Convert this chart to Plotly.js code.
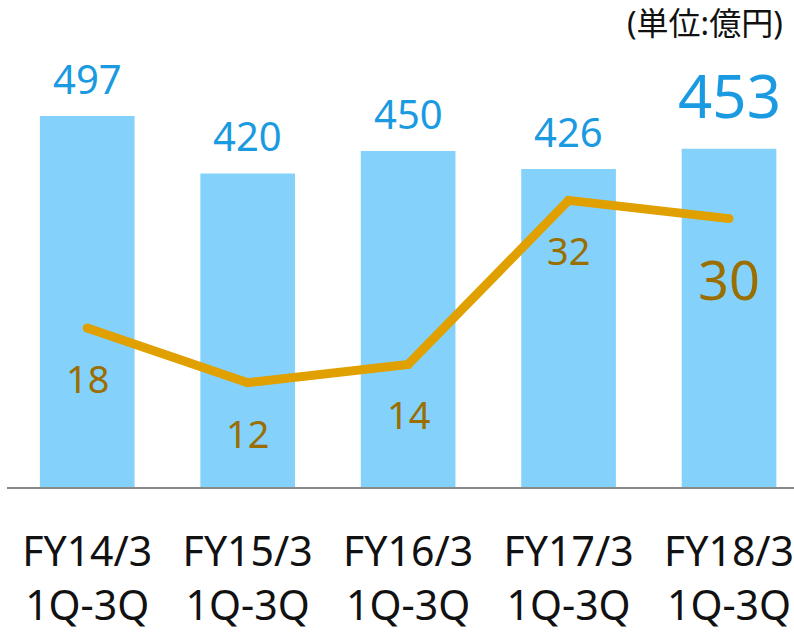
<!DOCTYPE html>
<html>
<head>
<meta charset="utf-8">
<script src="https://cdn.plot.ly/plotly-3.0.1.min.js"></script>
<style>
  html, body { margin: 0; padding: 0; background: #fff; }
  #chart { width: 794px; height: 633px; }
</style>
</head>
<body>
<div id="chart"></div>
<script>
const categories = ['FY14/3<br>1Q-3Q', 'FY15/3<br>1Q-3Q', 'FY16/3<br>1Q-3Q', 'FY17/3<br>1Q-3Q', 'FY18/3<br>1Q-3Q'];
const sales = [497, 420, 450, 426, 453];
const profit = [18, 12, 14, 32, 30];
const unitLabel = '(単位:億円)';

const chart = document.getElementById('chart');
const font = '"Noto Sans", "Noto Sans CJK JP", sans-serif';

const barTrace = {
  type: 'bar',
  x: categories,
  y: sales,
  marker: { color: '#84D2FC' },
  hoverinfo: 'skip'
};

const lineTrace = {
  type: 'scatter',
  mode: 'lines+markers',
  x: categories,
  y: profit,
  yaxis: 'y2',
  line: { color: '#E0A000', width: 9 },
  marker: { color: '#E0A000', size: 9 },
  hoverinfo: 'skip'
};

const annotations = [];

// sales labels above bars, last one emphasised
for( let i = 0; i < sales.length; i++ ) {
  const last = i === sales.length - 1;
  annotations.push({
    x: categories[i], y: sales[i], xref: 'x', yref: 'y',
    text: String(sales[i]),
    showarrow: false,
    yanchor: 'bottom',
    yshift: last ? 11 : 8,
    font: { family: font, size: last ? 60 : 40, color: '#1A9AE0' }
  });
}

// profit labels under the line points
for( let i = 0; i < profit.length; i++ ) {
  const last = i === profit.length - 1;
  annotations.push({
    x: categories[i], y: profit[i], xref: 'x', yref: 'y2',
    text: String(profit[i]),
    showarrow: false,
    yanchor: 'middle',
    yshift: last ? -60 : -50,
    font: { family: font, size: last ? 54 : 38, color: '#9A6E00' }
  });
}

annotations.push({
  xref: 'paper', yref: 'paper',
  x: 1, y: 1, xanchor: 'right', yanchor: 'middle',
  xshift: -9, yshift: 18,
  text: unitLabel,
  showarrow: false,
  font: { family: font, size: 32, color: '#111' }
});

const layout = {
  width: 794,
  height: 633,
  margin: { l: 7, r: 0, t: 40, b: 146 },
  paper_bgcolor: '#fff',
  plot_bgcolor: '#fff',
  showlegend: false,
  bargap: 0.41,
  font: { family: font },
  xaxis: {
    range: [-0.5, 4.405],
    showline: true,
    linecolor: '#898989',
    linewidth: 2,
    ticks: '',
    showgrid: false,
    tickfont: { family: font, size: 41, color: '#111' },
    ticklabelstandoff: 28
  },
  yaxis: {
    range: [0, 598.8],
    visible: false,
    showgrid: false,
    zeroline: false
  },
  yaxis2: {
    range: [0.55, 49.6],
    overlaying: 'y',
    visible: false,
    showgrid: false,
    zeroline: false
  },
  annotations: annotations
};

Plotly.newPlot(chart, [barTrace, lineTrace], layout, { displayModeBar: false, staticPlot: true });
</script>
</body>
</html>
